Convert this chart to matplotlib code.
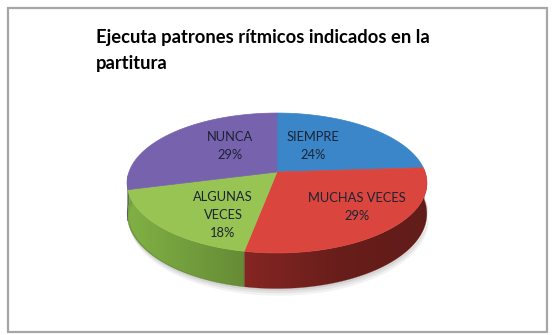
import numpy as np
import matplotlib
matplotlib.use("Agg")
import matplotlib.pyplot as plt
from matplotlib.patches import Polygon, Rectangle

# ---- data ----
title_lines = ["Ejecuta patrones rítmicos indicados en la", "partitura"]
categories = ["SIEMPRE", "MUCHAS VECES", "ALGUNAS VECES", "NUNCA"]
values = [24, 29, 18, 29]
label_lines = [["SIEMPRE"], ["MUCHAS VECES"], ["ALGUNAS", "VECES"], ["NUNCA"]]

# ---- style ----
top_colors = ["#3a86c8", "#da463e", "#98c454", "#7762ad"]
side_colors = ["#2a5f90", "#a8302b", "#80b044", "#56468a"]
label_pos = [(313, 146), (357, 207), (223, 215), (230, 146)]

W, H = 552, 335
fig = plt.figure(figsize=(W / 100, H / 100), dpi=100)
ax = fig.add_axes([0, 0, 1, 1])
ax.set_xlim(0, W)
ax.set_ylim(H, 0)
ax.axis("off")

# frame
ax.add_patch(Rectangle((7.5, 8), 539.5, 323.5, fill=False, edgecolor="#a6a6a6", lw=1.6))

# projection of the 3D pie
cx, cy = 277.0, 172.0
R = 148.0
sphi, cphi = 0.461, 0.887
D = 5.64
depth = 30.0


def proj(t_deg, drop=0.0):
    t = np.radians(t_deg)
    X = np.cos(t)
    Z = -np.sin(t)
    s = D / (D - Z * cphi)
    return cx + R * X * s, cy + R * Z * sphi * s + drop * s


total = float(sum(values))
bounds = [90.0]
for v in values:
    bounds.append(bounds[-1] - 360.0 * v / total)

# soft shadow under pie
for k, a in [(6, 0.05), (4, 0.06), (2, 0.07)]:
    ts = np.linspace(-185, 5, 200)
    xs, ys = proj(ts, depth)
    xs2, ys2 = proj(ts, depth + k)
    pts = np.column_stack([np.concatenate([xs + k * 0.3, xs2[::-1] + k * 0.3]),
                           np.concatenate([ys, ys2[::-1]])])
    ax.add_patch(Polygon(pts, closed=True, facecolor="black", alpha=a, lw=0))

# sides (front half only), shaded with a horizontal gradient clipped to the side
gx = np.linspace(0, W, 553)
shade = np.interp(gx, [130, 340, 430], [1.0, 0.62, 0.58])
for i in range(len(values)):
    t_start, t_end = bounds[i], bounds[i + 1]
    lo = max(t_end, -178.0)
    hi = min(t_start, 2.0)
    if lo >= hi:
        continue
    ts = np.linspace(hi, lo, 200)
    xt, yt = proj(ts)
    xb, yb = proj(ts, depth)
    pts = np.column_stack([np.concatenate([xt, xb[::-1]]),
                           np.concatenate([yt, yb[::-1]])])
    base = np.array(matplotlib.colors.to_rgb(side_colors[i]))
    img = np.clip(base[None, None, :] * shade[None, :, None], 0, 1)
    img = np.repeat(img, 2, axis=0)
    patch = Polygon(pts, closed=True, facecolor="none", edgecolor="none")
    ax.add_patch(patch)
    im = ax.imshow(img, extent=(0, W, H, 0), aspect="auto", interpolation="bilinear")
    im.set_clip_path(patch)
    ax.add_patch(Polygon(pts, closed=True, facecolor="none",
                         edgecolor=tuple(base * 0.7), lw=0.4, alpha=0.5))

ax.set_xlim(0, W)
ax.set_ylim(H, 0)

# top faces
for i in range(len(values)):
    ts = np.linspace(bounds[i], bounds[i + 1], 120)
    xs, ys = proj(ts)
    pts = [(cx, cy)] + list(zip(xs, ys))
    ax.add_patch(Polygon(pts, closed=True, facecolor=top_colors[i],
                         edgecolor=top_colors[i], lw=0.5))

# labels
for i in range(len(values)):
    lines = label_lines[i] + [f"{values[i]}%"]
    n = len(lines)
    x, y = label_pos[i]
    for j, s in enumerate(lines):
        ax.text(x, y + (j - (n - 1) / 2) * 18, s, ha="center", va="center",
                fontsize=9.3, family=["Lato", "DejaVu Sans"], color="#1c2333")

# title
for k, line in enumerate(title_lines):
    ax.text(96, 43.5 + 25 * k, line, ha="left", va="baseline", fontsize=13.2,
            fontweight="bold", family=["Lato", "DejaVu Sans"], color="black")

fig.savefig("out.png", dpi=100, facecolor="white")
